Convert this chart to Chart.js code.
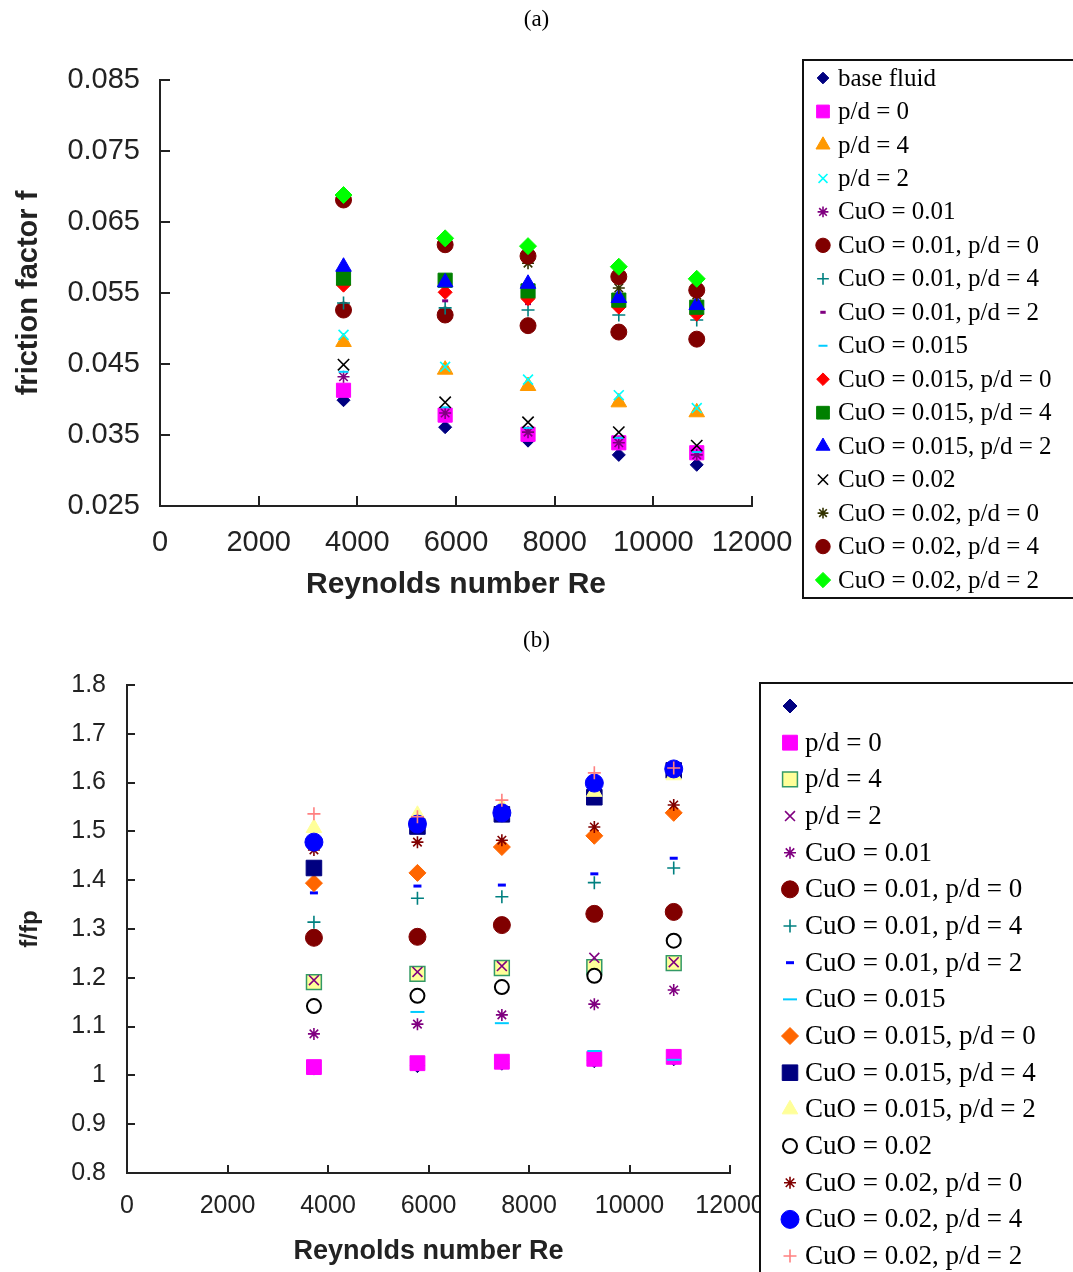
<!DOCTYPE html>
<html>
<head>
<meta charset="utf-8">
<script src="https://cdn.jsdelivr.net/npm/chart.js@4.4.0/dist/chart.umd.min.js"></script>
<style>
  html, body { margin: 0; padding: 0; background: #fff; overflow: hidden; }
  body { width: 1073px; height: 1272px; position: relative; }
  .cap { position: absolute; left: 0; width: 1073px; text-align: center; font: 23px "Liberation Serif", "Times New Roman", serif; color: #000; }
  #capA { top: 6px; }
  #capB { top: 627px; }
  #wrapA { position: absolute; left: 0; top: 0; width: 1073px; height: 620px; }
  #wrapB { position: absolute; left: 0; top: 620px; width: 1073px; height: 652px; }
</style>
</head>
<body>
<div id="wrapA"><canvas id="chartA" width="1073" height="620"></canvas></div>
<div id="wrapB"><canvas id="chartB" width="1073" height="652"></canvas></div>
<div class="cap" id="capA">(a)</div>
<div class="cap" id="capB">(b)</div>
<script>
// Reynolds numbers shared by both panels
const reynolds = [3720, 5780, 7460, 9300, 10880];
const reTicks = [0, 2000, 4000, 6000, 8000, 10000, 12000];

// (a) friction factor f
const fBaseFluid   = [0.0399, 0.0361, 0.0342, 0.0322, 0.0308];
const fPd0         = [0.0413, 0.0378, 0.0351, 0.0339, 0.0325];
const fPd4         = [0.0481, 0.0442, 0.0419, 0.0396, 0.0382];
const fPd2         = [0.0491, 0.0446, 0.0428, 0.0406, 0.0388];
const fCu01        = [0.0432, 0.0381, 0.0354, 0.0339, 0.0322];
const fCu01Pd0     = [0.0526, 0.0519, 0.0504, 0.0495, 0.0485];
const fCu01Pd4     = [0.0536, 0.0529, 0.0526, 0.0519, 0.0512];
const fCu01Pd2     = [0.0561, 0.0539, 0.0535, 0.0526, 0.0519];
const fCu015       = [0.0439, 0.0389, 0.0360, 0.0346, 0.0326];
const fCu015Pd0    = [0.0561, 0.0551, 0.0542, 0.0530, 0.0520];
const fCu015Pd4    = [0.0571, 0.0568, 0.0553, 0.0540, 0.0530];
const fCu015Pd2    = [0.0587, 0.0565, 0.0563, 0.0543, 0.0533];
const fCu02        = [0.0449, 0.0396, 0.0368, 0.0354, 0.0335];
const fCu02Pd0     = [0.0680, 0.0616, 0.0592, 0.0557, 0.0547];
const fCu02Pd4     = [0.0681, 0.0618, 0.0602, 0.0573, 0.0554];
const fCu02Pd2     = [0.0688, 0.0627, 0.0616, 0.0587, 0.0570];
const fTicks = [0.025, 0.035, 0.045, 0.055, 0.065, 0.075, 0.085];

// (b) f/fp
const rBaseFluid   = [1.015, 1.020, 1.025, 1.030, 1.034];
const rPd0         = [1.017, 1.025, 1.028, 1.034, 1.038];
const rPd4         = [1.191, 1.208, 1.220, 1.222, 1.230];
const rPd2         = [1.195, 1.212, 1.224, 1.241, 1.232];
const rCu01        = [1.085, 1.105, 1.124, 1.146, 1.175];
const rCu01Pd0     = [1.282, 1.284, 1.308, 1.331, 1.335];
const rCu01Pd4     = [1.314, 1.363, 1.366, 1.395, 1.425];
const rCu01Pd2     = [1.374, 1.388, 1.390, 1.413, 1.445];
const rCu015       = [1.140, 1.130, 1.107, 1.050, 1.032];
const rCu015Pd0    = [1.394, 1.415, 1.468, 1.491, 1.538];
const rCu015Pd4    = [1.425, 1.510, 1.535, 1.570, 1.625];
const rCu015Pd2    = [1.507, 1.534, 1.550, 1.581, 1.615];
const rCu02        = [1.142, 1.163, 1.181, 1.204, 1.276];
const rCu02Pd0     = [1.462, 1.478, 1.482, 1.509, 1.554];
const rCu02Pd4     = [1.478, 1.515, 1.538, 1.599, 1.628];
const rCu02Pd2     = [1.536, 1.530, 1.564, 1.620, 1.630];
const rTicks = [0.8, 0.9, 1, 1.1, 1.2, 1.3, 1.4, 1.5, 1.6, 1.7, 1.8];

const labelsA = ['base fluid', 'p/d = 0', 'p/d = 4', 'p/d = 2',
  'CuO = 0.01', 'CuO = 0.01, p/d = 0', 'CuO = 0.01, p/d = 4', 'CuO = 0.01, p/d = 2',
  'CuO = 0.015', 'CuO = 0.015, p/d = 0', 'CuO = 0.015, p/d = 4', 'CuO = 0.015, p/d = 2',
  'CuO = 0.02', 'CuO = 0.02, p/d = 0', 'CuO = 0.02, p/d = 4', 'CuO = 0.02, p/d = 2'];
const labelsB = ['', ...labelsA.slice(1)];

const seriesA = [fBaseFluid, fPd0, fPd4, fPd2, fCu01, fCu01Pd0, fCu01Pd4, fCu01Pd2,
  fCu015, fCu015Pd0, fCu015Pd4, fCu015Pd2, fCu02, fCu02Pd0, fCu02Pd4, fCu02Pd2];
const seriesB = [rBaseFluid, rPd0, rPd4, rPd2, rCu01, rCu01Pd0, rCu01Pd4, rCu01Pd2,
  rCu015, rCu015Pd0, rCu015Pd4, rCu015Pd2, rCu02, rCu02Pd0, rCu02Pd4, rCu02Pd2];

// marker looks (excel-ish)
const stylesA = [
  { pointStyle: 'rectRot', color: '#000080', radius: 6.5 },
  { pointStyle: 'rect', color: '#ff00ff', radius: 10 },
  { pointStyle: 'triangle', color: '#ff9900', radius: 9 },
  { pointStyle: 'crossRot', color: '#00ffff', radius: 7, line: true },
  { pointStyle: 'star', color: '#800080', radius: 6, line: true },
  { pointStyle: 'circle', color: '#800000', radius: 8 },
  { pointStyle: 'cross', color: '#008080', radius: 6.5, line: true },
  { pointStyle: 'line', color: '#800080', radius: 3, line: true, width: 3 },
  { pointStyle: 'line', color: '#00ccff', radius: 5, line: true, width: 2 },
  { pointStyle: 'rectRot', color: '#ff0000', radius: 7 },
  { pointStyle: 'rect', color: '#008000', radius: 10 },
  { pointStyle: 'triangle', color: '#0000ff', radius: 9 },
  { pointStyle: 'crossRot', color: '#000000', radius: 8, line: true },
  { pointStyle: 'star', color: '#333300', radius: 6, line: true },
  { pointStyle: 'circle', color: '#800000', radius: 8 },
  { pointStyle: 'rectRot', color: '#00ff00', radius: 8.5 }
];
const stylesB = [
  { pointStyle: 'rectRot', color: '#000080', radius: 7 },
  { pointStyle: 'rect', color: '#ff00ff', radius: 10.5 },
  { pointStyle: 'rect', color: '#ffff99', border: '#339966', radius: 10.5, width: 1.5 },
  { pointStyle: 'crossRot', color: '#800080', radius: 7, line: true },
  { pointStyle: 'star', color: '#800080', radius: 6, line: true },
  { pointStyle: 'circle', color: '#800000', radius: 8.5 },
  { pointStyle: 'cross', color: '#008080', radius: 6.5, line: true },
  { pointStyle: 'line', color: '#0000ff', radius: 4, line: true, width: 3 },
  { pointStyle: 'line', color: '#00ccff', radius: 7, line: true, width: 2 },
  { pointStyle: 'rectRot', color: '#ff6600', radius: 8.5 },
  { pointStyle: 'rect', color: '#000080', radius: 11 },
  { pointStyle: 'triangle', color: '#ffff99', radius: 9 },
  { pointStyle: 'circle', color: '#ffffff', border: '#000000', radius: 7, width: 2 },
  { pointStyle: 'star', color: '#800000', radius: 6, line: true },
  { pointStyle: 'circle', color: '#0000ff', radius: 9 },
  { pointStyle: 'cross', color: '#ff8080', radius: 6.5, line: true }
];

Chart.defaults.font.family = "'Liberation Sans', Arial, sans-serif";
Chart.defaults.color = '#222';

function makeDatasets(series, labels, styles) {
  return series.map((vals, i) => {
    const s = styles[i];
    return {
      label: labels[i],
      data: reynolds.map((re, k) => ({ x: re, y: vals[k] })),
      pointStyle: s.pointStyle,
      pointRadius: s.radius,
      pointHoverRadius: s.radius,
      backgroundColor: s.line ? 'rgba(0,0,0,0)' : s.color,
      borderColor: s.border || s.color,
      borderWidth: s.width || (s.line ? 1.6 : 1),
      order: series.length - i   // later series on top, like excel
    };
  });
}

// boxed legend, one column, drawn at fixed spot
const boxLegend = {
  id: 'boxLegend',
  afterDraw(chart, args, o) {
    const ctx = chart.ctx;
    ctx.save();
    ctx.fillStyle = '#fff';
    ctx.fillRect(o.left, o.top, o.width, o.height);
    ctx.strokeStyle = '#111';
    ctx.lineWidth = 2;
    ctx.strokeRect(o.left, o.top, o.width, o.height);
    chart.data.datasets.forEach((ds, i) => {
      const y = o.firstRow + i * o.rowGap;
      ctx.fillStyle = ds.backgroundColor;
      ctx.strokeStyle = ds.borderColor;
      ctx.lineWidth = ds.borderWidth;
      Chart.helpers.drawPoint(ctx, {
        pointStyle: ds.pointStyle, radius: ds.pointRadius * o.markerScale,
        rotation: 0, borderWidth: ds.borderWidth
      }, o.markerX, y);
      ctx.fillStyle = '#000';
      ctx.font = o.font;
      ctx.textBaseline = 'middle';
      ctx.textAlign = 'left';
      ctx.fillText(ds.label, o.textX, y + 1);
    });
    ctx.restore();
  }
};

function axisOpts(cfg) {
  return {
    type: 'linear',
    min: cfg.ticks[0],
    max: cfg.ticks[cfg.ticks.length - 1],
    afterBuildTicks: s => { s.ticks = cfg.ticks.map(v => ({ value: v })); },
    afterFit: s => { if (cfg.width) s.width = cfg.width; if (cfg.height) s.height = cfg.height; },
    border: { color: '#222', width: 2 },
    grid: { drawOnChartArea: false, tickLength: -cfg.tick, color: '#222', lineWidth: 2 },
    ticks: {
      padding: cfg.pad, color: '#222', font: { size: cfg.fontSize },
      autoSkip: false, maxRotation: 0, callback: cfg.fmt
    },
    title: {
      display: true, text: cfg.title, color: '#222',
      font: { size: cfg.titleSize, weight: 'bold' }, padding: cfg.titlePad
    }
  };
}

new Chart(document.getElementById('chartA'), {
  type: 'scatter',
  data: { datasets: makeDatasets(seriesA, labelsA, stylesA) },
  plugins: [boxLegend],
  options: {
    responsive: false,
    animation: false,
    layout: { padding: { left: 0, top: 80, right: 321, bottom: 14 } },
    plugins: {
      legend: { display: false },
      tooltip: { enabled: false },
      boxLegend: {
        left: 803, top: 60, width: 320, height: 538,
        markerX: 823, textX: 838, firstRow: 78, rowGap: 33.47,
        markerScale: 0.9, font: '25px "Liberation Serif", "Times New Roman", serif'
      }
    },
    scales: {
      x: axisOpts({ ticks: reTicks, height: 100, tick: 10, pad: 30, fontSize: 29,
        fmt: v => String(v), title: 'Reynolds number Re', titleSize: 30, titlePad: { top: 0, bottom: 3 } }),
      y: axisOpts({ ticks: fTicks, width: 160, tick: 10, pad: 30, fontSize: 29,
        fmt: v => v.toFixed(3), title: 'friction factor f', titleSize: 29, titlePad: { top: 12, bottom: 0 } })
    }
  }
});

new Chart(document.getElementById('chartB'), {
  type: 'scatter',
  data: { datasets: makeDatasets(seriesB, labelsB, stylesB) },
  plugins: [boxLegend],
  options: {
    responsive: false,
    animation: false,
    layout: { padding: { left: 0, top: 65, right: 343, bottom: 0 } },
    plugins: {
      legend: { display: false },
      tooltip: { enabled: false },
      boxLegend: {
        left: 760, top: 63, width: 340, height: 700,
        markerX: 790, textX: 805, firstRow: 86, rowGap: 36.67,
        markerScale: 1, font: '27px "Liberation Serif", "Times New Roman", serif'
      }
    },
    scales: {
      x: axisOpts({ ticks: reTicks, height: 99, tick: 8, pad: 26, fontSize: 25,
        fmt: v => String(v), title: 'Reynolds number Re', titleSize: 27, titlePad: { top: 0, bottom: 4 } }),
      y: axisOpts({ ticks: rTicks, width: 127, tick: 8, pad: 29, fontSize: 25,
        fmt: v => String(+v.toFixed(1)), title: 'f/fp', titleSize: 24, titlePad: { top: 16, bottom: 0 } })
    }
  }
});
</script>
</body>
</html>
